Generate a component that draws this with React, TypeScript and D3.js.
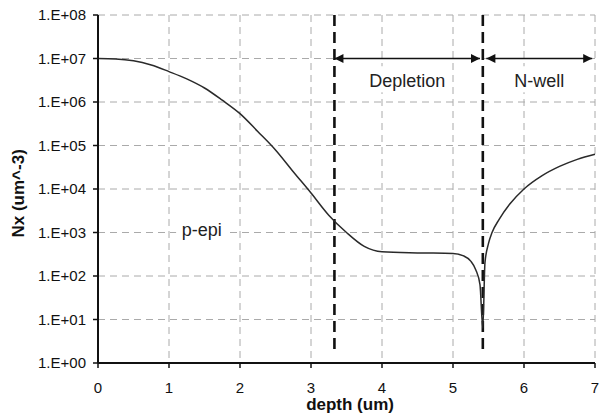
import React, { useMemo } from 'react';
import * as d3 from 'd3';

// doping profile (depth in um, Nx in um^-3)
const depth = [0, 0.25, 0.5, 0.75, 1.0, 1.25, 1.5, 1.75, 2.0, 2.25, 2.5, 2.75, 3.0, 3.25, 3.5, 3.75, 4.0, 4.5, 5.0, 5.15, 5.25, 5.32, 5.38, 5.42, 5.45, 5.5, 5.55, 5.65, 5.8, 6.0, 6.25, 6.5, 6.75, 7.0];
const nx = [1.0e7, 9.8e6, 8.9e6, 7.1e6, 5.0e6, 3.4e6, 2.1e6, 1.1e6, 5.4e5, 2.1e5, 7.9e4, 2.5e4, 8.1e3, 2.5e3, 1.0e3, 480, 360, 340, 330, 290, 220, 140, 63, 6.3, 200, 560, 1.0e3, 2.0e3, 4.5e3, 1.0e4, 2.0e4, 3.3e4, 4.8e4, 6.3e4];

const xTicks = [0, 1, 2, 3, 4, 5, 6, 7];
const yTicks = [1e0, 1e1, 1e2, 1e3, 1e4, 1e5, 1e6, 1e7, 1e8];
const yTickLabels = ['1.E+00', '1.E+01', '1.E+02', '1.E+03', '1.E+04', '1.E+05', '1.E+06', '1.E+07', '1.E+08'];

const boundaries = [3.33, 5.42];
const regionLabels = ['Depletion', 'N-well'];
const regionFrom = [3.33, 5.47];
const regionTo = [5.38, 6.96];

const App: React.FC = () => {
  const width = 599;
  const height = 418;
  const margin = { top: 15, right: 4, bottom: 55, left: 98 };
  const innerWidth = width - margin.left - margin.right;
  const innerHeight = height - margin.top - margin.bottom;

  const scales = useMemo(() => {
    const xScale = d3.scaleLinear().domain([0, 7]).range([0, innerWidth]);
    const yScale = d3.scaleLog().domain([1, 1e8]).range([innerHeight, 0]);
    return { xScale, yScale };
  }, [innerWidth, innerHeight]);

  const { xScale, yScale } = scales;
  const points = depth.map((d, i) => [d, nx[i]] as [number, number]);

  const line = d3.line<[number, number]>()
    .x(d => xScale(d[0]))
    .y(d => yScale(d[1]))
    .curve(d3.curveMonotoneX);

  const font = 'Arial, "Liberation Sans", Helvetica, sans-serif';
  const labelY = yScale(Math.pow(10, 6.5));

  return (
    <svg width={width} height={height} style={{ position: 'absolute', left: 0, top: 0, background: '#fff' }}>
      <defs>
        <marker id="arr" viewBox="0 0 10 10" refX="10" refY="5" markerWidth="10" markerHeight="9" orient="auto-start-reverse" markerUnits="userSpaceOnUse">
          <path d="M0,0 L10,5 L0,10 z" fill="#111" />
        </marker>
      </defs>
      <g transform={`translate(${margin.left},${margin.top})`} fontFamily={font}>
        {/* grid */}
        {yTicks.map((t, i) => (
          <line key={`gy${i}`} x1={0} x2={innerWidth} y1={yScale(t)} y2={yScale(t)} stroke="#aaa" strokeWidth={1} strokeDasharray="7,5" />
        ))}
        {xTicks.filter(t => t > 0).map((t, i) => (
          <line key={`gx${i}`} x1={xScale(t)} x2={xScale(t)} y1={0} y2={innerHeight} stroke="#aaa" strokeWidth={1} strokeDasharray="7,5" />
        ))}

        {/* region labels with white boxes */}
        {regionLabels.map((lab, i) => {
          const cx = xScale((regionFrom[i] + regionTo[i]) / 2);
          const w = lab.length * 9.5;
          return (
            <g key={lab}>
              <rect x={cx - w / 2} y={labelY - 14} width={w} height={26} fill="#fff" />
              <text x={cx} y={labelY + 7} textAnchor="middle" fontSize={18} fill="#222">{lab}</text>
            </g>
          );
        })}
        <rect x={xScale(1.1)} y={yScale(1e3) - 13} width={52} height={26} fill="#fff" />
        <text x={xScale(1.46)} y={yScale(1e3) + 3} textAnchor="middle" fontSize={18} fill="#222">p-epi</text>

        {/* arrows */}
        {regionLabels.map((lab, i) => (
          <line key={`a${i}`} x1={xScale(regionFrom[i])} x2={xScale(regionTo[i])} y1={yScale(1e7)} y2={yScale(1e7)}
            stroke="#111" strokeWidth={1.6} markerStart="url(#arr)" markerEnd="url(#arr)" />
        ))}

        {/* boundaries */}
        {boundaries.map((b, i) => (
          <line key={`b${i}`} x1={xScale(b)} x2={xScale(b)} y1={0} y2={innerHeight - 8} stroke="#111" strokeWidth={2.6} strokeDasharray="11,6" />
        ))}

        {/* profile */}
        <path d={line(points) || undefined} fill="none" stroke="#2a2a2a" strokeWidth={1.5} />

        {/* axes */}
        <line x1={0} x2={0} y1={0} y2={innerHeight} stroke="#111" strokeWidth={2} />
        <line x1={0} x2={innerWidth} y1={innerHeight} y2={innerHeight} stroke="#111" strokeWidth={2} />
        {yTicks.map((t, i) => (
          <g key={`yt${i}`}>
            <line x1={-5} x2={0} y1={yScale(t)} y2={yScale(t)} stroke="#111" strokeWidth={1.5} />
            <text x={-12} y={yScale(t) + 5} textAnchor="end" fontSize={15} fill="#111">{yTickLabels[i]}</text>
          </g>
        ))}
        {xTicks.map((t, i) => (
          <g key={`xt${i}`}>
            <line x1={xScale(t)} x2={xScale(t)} y1={innerHeight} y2={innerHeight + 5} stroke="#111" strokeWidth={1.5} />
            <text x={xScale(t)} y={innerHeight + 30} textAnchor="middle" fontSize={15} fill="#111">{t}</text>
          </g>
        ))}

        {/* axis titles */}
        <text x={xScale(3.55)} y={innerHeight + 47} textAnchor="middle" fontSize={17} fontWeight="bold" fill="#111">depth (um)</text>
        <text transform={`translate(${24 - margin.left},${yScale(Math.pow(10, 3.9))}) rotate(-90)`} textAnchor="middle" fontSize={17} fontWeight="bold" fill="#111">Nx (um^-3)</text>
      </g>
    </svg>
  );
};

export default App;
